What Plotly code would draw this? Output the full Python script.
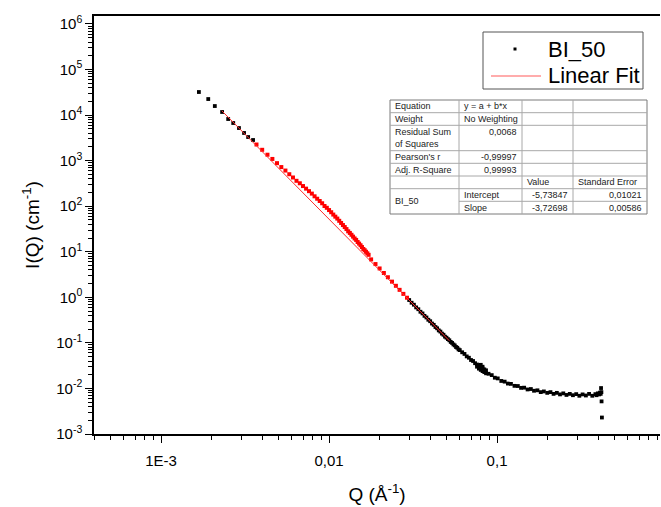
import math
import plotly.graph_objects as go

# ---------------------------------------------------------------------------
# SAXS curve of sample BI_50: scattering vector Q (1/Å) and intensity I (1/cm)
# ---------------------------------------------------------------------------
q_low = [0.00168, 0.00191, 0.00209, 0.00231, 0.00251, 0.00269, 0.00291, 0.00312,
         0.00330, 0.00353]
i_low = [32100, 22500, 15800, 11700, 8200, 6700, 5200, 4050, 3300, 2840]

# points inside the fitted Q window (highlighted in red)
q_win = [0.0037, 0.0040, 0.0043, 0.0046, 0.0049, 0.0052, 0.0055, 0.0058, 0.0061,
         0.0064, 0.0067, 0.0070, 0.0073, 0.0076, 0.0079, 0.0082, 0.0085, 0.0088,
         0.0091, 0.0094, 0.0097, 0.0100, 0.0103, 0.0106, 0.0109, 0.0112, 0.0115,
         0.0118, 0.0121, 0.0124, 0.0127, 0.0130, 0.0133, 0.0136, 0.0139, 0.0142,
         0.0145, 0.0148, 0.0151, 0.0154, 0.0157, 0.0160, 0.0163, 0.0166, 0.0169,
         0.0172, 0.0178, 0.0189, 0.0200, 0.0212, 0.0224, 0.0237, 0.0250, 0.0263,
         0.0277, 0.0291]
i_win = [2260, 1730, 1350, 1090, 881, 723, 606, 504, 427, 361, 319, 277, 243, 214,
         189, 165, 146, 130, 116, 101, 92.2, 82.3, 73.8, 65.5, 59.0, 53.5, 47.8,
         42.9, 38.6, 34.9, 31.5, 28.1, 25.9, 23.6, 21.5, 19.6, 18.2, 16.4, 15.1,
         13.9, 12.7, 11.5, 10.8, 10.0, 9.25, 8.57, 6.80, 5.37, 4.30, 3.42, 2.76,
         2.21, 1.79, 1.46, 1.19, 0.98]

q_high = [0.030, 0.031, 0.032, 0.033, 0.034, 0.035, 0.036, 0.037, 0.038, 0.039,
          0.040, 0.041, 0.042, 0.043, 0.044, 0.045, 0.046, 0.047, 0.048, 0.049,
          0.050, 0.051, 0.052, 0.053, 0.054, 0.055, 0.056, 0.057, 0.058, 0.059,
          0.060, 0.062, 0.064, 0.066, 0.068, 0.070, 0.072, 0.074,
          0.076, 0.076, 0.078, 0.078, 0.080, 0.080, 0.080, 0.082, 0.082, 0.082,
          0.084, 0.084, 0.086, 0.086,
          0.089, 0.093, 0.097, 0.101, 0.106, 0.111, 0.116, 0.121, 0.127, 0.133,
          0.139, 0.145, 0.152, 0.159, 0.166, 0.174, 0.182, 0.190, 0.199, 0.208,
          0.217, 0.227, 0.237, 0.248, 0.259, 0.271, 0.283, 0.296, 0.309, 0.323,
          0.338, 0.353, 0.369, 0.385, 0.391, 0.398, 0.405, 0.410, 0.414, 0.418,
          0.416, 0.419, 0.421]
i_high = [0.872, 0.761, 0.688, 0.601, 0.548, 0.482, 0.443, 0.392, 0.361, 0.322,
          0.299, 0.266, 0.249, 0.223, 0.209, 0.188, 0.177, 0.160, 0.151, 0.137,
          0.130, 0.121, 0.114, 0.105, 0.0998, 0.0925, 0.0880, 0.0812, 0.0781, 0.0720,
          0.0694, 0.0622, 0.0572, 0.0505, 0.0472, 0.0421, 0.0400, 0.0358,
          0.0335, 0.0300, 0.0318, 0.0272, 0.0290, 0.0330, 0.0255, 0.0275, 0.0240,
          0.0300, 0.0262, 0.0228, 0.0250, 0.0215,
          0.0210, 0.0196, 0.0172, 0.0166, 0.0146, 0.0141, 0.0128, 0.0126, 0.0114,
          0.0113, 0.0103, 0.0104, 0.0095, 0.0097, 0.0089, 0.0091, 0.0083, 0.0086,
          0.0080, 0.0083, 0.0076, 0.0080, 0.0074, 0.0078, 0.0072, 0.0076, 0.0071,
          0.0075, 0.0069, 0.0074, 0.0070, 0.0076, 0.0069, 0.0075, 0.0071, 0.0078,
          0.0074, 0.0081, 0.0076, 0.0083,
          0.0102, 0.0052, 0.0023]

# linear fit of log10(I) vs log10(Q):  y = a + b*x
fit_intercept = -5.73847
fit_intercept_err = 0.01021
fit_slope = -3.72698
fit_slope_err = 0.00586
fit_rss = 0.0068
fit_pearson = -0.99997
fit_adj_r2 = 0.99993
fit_q_span = [0.0023, 0.052]

x_tick_vals = [1e-3, 1e-2, 1e-1]
x_tick_text = ["1E-3", "0,01", "0,1"]
y_tick_vals = [1e-3, 1e-2, 1e-1, 1e0, 1e1, 1e2, 1e3, 1e4, 1e5, 1e6]
y_tick_text = ["10<sup>%d</sup>" % e for e in range(-3, 7)]

legend_labels = ["BI_50", "Linear Fit"]

FONT = "Liberation Sans, Arial, sans-serif"
W, H = 661, 507
ML, MR, MT, MB = 94, 1, 16, 73


def px_x(px):
    return (px - ML) / (W - ML - MR)


def px_y(py):
    return (H - MB - py) / (H - MT - MB)


fit_i_span = [10 ** (fit_intercept + fit_slope * math.log10(q)) for q in fit_q_span]

fig = go.Figure()
fig.add_trace(go.Scatter(
    x=q_low + q_high, y=i_low + i_high, mode="markers", name=legend_labels[0],
    marker=dict(symbol="square", size=3.8, color="black", line=dict(width=0)),
    showlegend=False,
))
fig.add_trace(go.Scatter(
    x=q_win, y=i_win, mode="markers", showlegend=False,
    marker=dict(symbol="square", size=4, color="#ff0000", line=dict(width=0)),
))
fig.add_trace(go.Scatter(
    x=fit_q_span, y=fit_i_span, mode="lines", name=legend_labels[1],
    line=dict(color="#ff2a2a", width=1), showlegend=False,
))

minor_x = [k * 10.0 ** e for e in range(-4, 1) for k in range(2, 10)]
minor_y = [k * 10.0 ** e for e in range(-3, 6) for k in range(2, 10)]

fig.update_xaxes(
    type="log", range=[-3.399, -0.030],
    tickmode="array", tickvals=x_tick_vals, ticktext=x_tick_text,
    ticks="outside", ticklen=7, tickwidth=1.3, tickcolor="black",
    ticklabelstandoff=5,
    minor=dict(tickmode="array", tickvals=minor_x, ticks="outside", ticklen=4,
               tickwidth=1, tickcolor="black", showgrid=False),
    showline=True, linecolor="black", linewidth=1.5, mirror=True,
    showgrid=False, zeroline=False,
    tickfont=dict(family=FONT, size=15, color="black"),
    title=dict(text="Q (Å<sup>-1</sup>)", font=dict(family=FONT, size=19, color="black"),
               standoff=20),
)
fig.update_yaxes(
    type="log", range=[-3, 6.175],
    tickmode="array", tickvals=y_tick_vals, ticktext=y_tick_text,
    ticks="outside", ticklen=7, tickwidth=1.3, tickcolor="black",
    minor=dict(tickmode="array", tickvals=minor_y, ticks="outside", ticklen=4,
               tickwidth=1, tickcolor="black", showgrid=False),
    showline=True, linecolor="black", linewidth=1.5,
    showgrid=False, zeroline=False,
    tickfont=dict(family=FONT, size=15, color="black"),
    title=dict(text="I(Q) (cm<sup>-1</sup>)", font=dict(family=FONT, size=19, color="black"),
               standoff=12),
)

shapes = []
annotations = []

# ---- legend box ---------------------------------------------------------------
shapes.append(dict(type="rect", xref="paper", yref="paper",
                   x0=px_x(483), x1=px_x(643), y0=px_y(32), y1=px_y(89),
                   fillcolor="white", line=dict(color="#555555", width=1), layer="above"))
shapes.append(dict(type="rect", xref="paper", yref="paper",
                   x0=px_x(513.5), x1=px_x(516.5), y0=px_y(47.5), y1=px_y(50.5),
                   fillcolor="black", line=dict(width=0), layer="above"))
shapes.append(dict(type="line", xref="paper", yref="paper",
                   x0=px_x(491), x1=px_x(541), y0=px_y(76), y1=px_y(76),
                   line=dict(color="#ff5a5a", width=1.2), layer="above"))
for label, ly in zip(legend_labels, [49, 76]):
    annotations.append(dict(x=px_x(546), y=px_y(ly), xref="paper", yref="paper",
                            text=label, showarrow=False, xanchor="left", yanchor="middle",
                            font=dict(family=FONT, size=22, color="black")))

# ---- fit report table -------------------------------------------------------
col_px = [390, 459, 522, 573, 647]
row_px = [100, 112.7, 125.3, 150.7, 163.3, 176, 188.7, 201.3, 214]
grid_col = "#a8a8a8"
shapes.append(dict(type="rect", xref="paper", yref="paper",
                   x0=px_x(col_px[0]), x1=px_x(col_px[-1]),
                   y0=px_y(row_px[0]), y1=px_y(row_px[-1]),
                   fillcolor="white", line=dict(color="#7a7a7a", width=1), layer="above"))
for i, ry in enumerate(row_px[1:-1], start=1):
    x_start = col_px[1] if i == 7 else col_px[0]
    shapes.append(dict(type="line", xref="paper", yref="paper",
                       x0=px_x(x_start), x1=px_x(col_px[-1]), y0=px_y(ry), y1=px_y(ry),
                       line=dict(color=grid_col, width=1), layer="above"))
for cx in col_px[1:-1]:
    shapes.append(dict(type="line", xref="paper", yref="paper",
                       x0=px_x(cx), x1=px_x(cx), y0=px_y(row_px[0]), y1=px_y(row_px[-1]),
                       line=dict(color=grid_col, width=1), layer="above"))


def comma(v, nd):
    return f"{v:.{nd}f}".replace(".", ",")


cells = [
    # (row, col, text, align, vpos)
    (0, 0, "Equation", "left", "mid"),
    (0, 1, "y = a + b*x", "left", "mid"),
    (1, 0, "Weight", "left", "mid"),
    (1, 1, "No Weighting", "left", "mid"),
    (2, 0, "Residual Sum<br>of Squares", "left", "mid"),
    (2, 1, comma(fit_rss, 4), "right", "top"),
    (3, 0, "Pearson's r", "left", "mid"),
    (3, 1, comma(fit_pearson, 5), "right", "mid"),
    (4, 0, "Adj. R-Square", "left", "mid"),
    (4, 1, comma(fit_adj_r2, 5), "right", "mid"),
    (5, 2, "Value", "left", "mid"),
    (5, 3, "Standard Error", "left", "mid"),
    (6, 1, "Intercept", "left", "mid"),
    (6, 2, comma(fit_intercept, 5), "right", "mid"),
    (6, 3, comma(fit_intercept_err, 5), "right", "mid"),
    (7, 1, "Slope", "left", "mid"),
    (7, 2, comma(fit_slope, 5), "right", "mid"),
    (7, 3, comma(fit_slope_err, 5), "right", "mid"),
]
for r, c, txt, al, vp in cells:
    xpx = col_px[c] + 3 if al == "left" else col_px[c + 1] - 3
    ypx = row_px[r] + 6.3 if vp == "top" else (row_px[r] + row_px[r + 1]) / 2
    annotations.append(dict(x=px_x(xpx), y=px_y(ypx), xref="paper", yref="paper",
                            text=txt, showarrow=False, xanchor=al, yanchor="middle",
                            align=al, font=dict(family=FONT, size=9, color="#222222")))
annotations.append(dict(x=px_x(col_px[0] + 3), y=px_y((row_px[6] + row_px[8]) / 2),
                        xref="paper", yref="paper", text="BI_50", showarrow=False,
                        xanchor="left", yanchor="middle",
                        font=dict(family=FONT, size=9, color="#222222")))

fig.update_layout(
    width=W, height=H,
    margin=dict(l=ML, r=MR, t=MT, b=MB),
    paper_bgcolor="white", plot_bgcolor="white",
    font=dict(family=FONT, color="black"),
    shapes=shapes, annotations=annotations,
    showlegend=False,
)

fig.write_html("out.html")
